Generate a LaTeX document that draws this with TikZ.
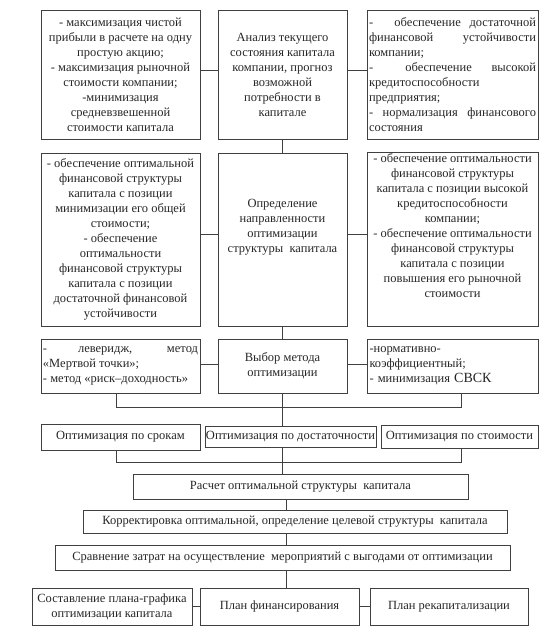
\documentclass[tikz,border=0pt]{standalone}
\usepackage{fontspec}
\setmainfont{Liberation Serif}
\newcommand{\jst}[2]{\makebox[#1][s]{#2}}
\begin{document}
\begin{tikzpicture}[x=1bp, y=-1bp,
	box/.style={draw=black!75, line width=0.9bp, inner sep=1.5bp, align=center, text=black!85,
		font=\fontsize{12.5bp}{15bp}\selectfont},
	lnk/.style={draw=black!75, line width=0.9bp}]
\useasboundingbox (0,0) rectangle (549,626);

% Первый уровень
\node[box, minimum width=159bp, minimum height=129bp] (L1) at (120.5,74.5)
	{- максимизация чистой\\прибыли в расчете на одну\\простую акцию;\\- максимизация рыночной\\стоимости компании;\\-минимизация\\средневзвешенной\\стоимости капитала};
\node[box, minimum width=129bp, minimum height=129bp] (M1) at (282.5,74.5)
	{Анализ текущего\\состояния капитала\\компании, прогноз\\возможной\\потребности в\\капитале};
\node[box, align=left, minimum width=171bp, minimum height=129bp] (R1) at (452.5,74.5)
	{\jst{167bp}{- \quad обеспечение достаточной}\\\jst{167bp}{финансовой устойчивости}\\компании;\\\jst{167bp}{- \quad обеспечение высокой}\\кредитоспособности\\предприятия;\\\jst{167bp}{- нормализация финансового}\\состояния};

% Второй уровень
\node[box, minimum width=159bp, minimum height=173bp] (L2) at (120.5,239.5)
	{- обеспечение оптимальной\\финансовой структуры\\капитала с позиции\\минимизации его общей\\стоимости;\\- обеспечение\\оптимальности\\финансовой структуры\\капитала с позиции\\достаточной финансовой\\устойчивости};
\node[box, minimum width=129bp, minimum height=173bp] (M2) at (282.5,239.5)
	{Определение\\направленности\\оптимизации\\структуры\ \ капитала\\[12bp]};
\node[box, minimum width=171bp, minimum height=173bp] (R2) at (452.5,239.5)
	{- обеспечение оптимальности\\финансовой структуры\\капитала с позиции высокой\\кредитоспособности\\компании;\\- обеспечение оптимальности\\финансовой структуры\\капитала с позиции\\повышения его рыночной\\стоимости\\[12bp]};

% Третий уровень
\node[box, align=left, minimum width=159bp, minimum height=54bp] (L3) at (120.5,366)
	{\jst{155bp}{- \quad леверидж, \quad метод}\\«Мертвой точки»;\\- метод «риск–доходность»};
\node[box, minimum width=129bp, minimum height=54bp] (M3) at (282.5,366)
	{Выбор метода\\оптимизации};
\node[box, align=left, minimum width=171bp, minimum height=54bp, text width=166bp] (R3) at (452.5,366)
	{-нормативно-\\коэффициентный;\\- минимизация {\fontsize{14bp}{15bp}\selectfont СВСК}};

\draw[lnk] ([yshift=4.5bp]L1.east) -- ([yshift=4.5bp]M1.west);
\draw[lnk] ([yshift=4.5bp]M1.east) -- ([yshift=4.5bp]R1.west);
\draw[lnk] ([yshift=5.5bp]L2.east) -- ([yshift=5.5bp]M2.west);
\draw[lnk] ([yshift=5.5bp]M2.east) -- ([yshift=5.5bp]R2.west);
\draw[lnk] ([yshift=2bp]L3.east) -- ([yshift=2bp]M3.west);
\draw[lnk] ([yshift=2bp]M3.east) -- ([yshift=2bp]R3.west);
\draw[lnk] (M1) -- (M2);
\draw[lnk] (M2) -- (M3);

% Способы оптимизации
\node[box, minimum width=159bp, minimum height=26bp] (O1) at (120.5,437) {Оптимизация по срокам};
\node[box, inner xsep=0pt, minimum width=171bp, minimum height=21bp] (O2) at (290.5,436.5) {Оптимизация по достаточности};
\node[box, inner xsep=0pt, minimum width=157bp, minimum height=23bp] (O3) at (459.5,436.5) {Оптимизация по стоимости};

\coordinate (aL) at (116,407);
\coordinate (aR) at (461,407);
\draw[lnk] (L3.south -| aL) -- (aL) -- (aR) -- (R3.south -| aR);
\draw[lnk] (M3.south) -- (M3.south |- O2.north);

\coordinate (bL) at (116,462);
\coordinate (bR) at (461,462);
\draw[lnk] (O1.south -| bL) -- (bL) -- (bR) -- (O3.south -| bR);

% Расчет и план
\coordinate (sp) at (286,0);
\node[box, minimum width=335bp, minimum height=25bp] (R) at (300.5,487) {Расчет оптимальной структуры\ \ капитала};
\node[box, minimum width=424bp, minimum height=23bp] (K) at (295,521.5) {Корректировка оптимальной, определение целевой структуры\ \ капитала};
\node[box, minimum width=455bp, minimum height=25bp] (C) at (282.5,557.5) {Сравнение затрат на осуществление\ \ мероприятий с выгодами от оптимизации};

\node[box, inner xsep=0pt, minimum width=160bp, minimum height=37bp] (B1) at (112,606.5) {Составление плана-графика\\оптимизации капитала};
\node[box, minimum width=159bp, minimum height=37bp] (B2) at (279.5,606.5) {План финансирования};
\node[box, minimum width=158bp, minimum height=37bp] (B3) at (449,606.5) {План рекапитализации};

\draw[lnk] (O2.south -| M3.south) -- (R.north -| M3.south);
\foreach \a/\b in {R/K, K/C, C/B2}
	\draw[lnk] (\a.south -| sp) -- (\b.north -| sp);
\draw[lnk] (B1) -- (B2);
\draw[lnk] (B2) -- (B3);
\end{tikzpicture}
\end{document}
